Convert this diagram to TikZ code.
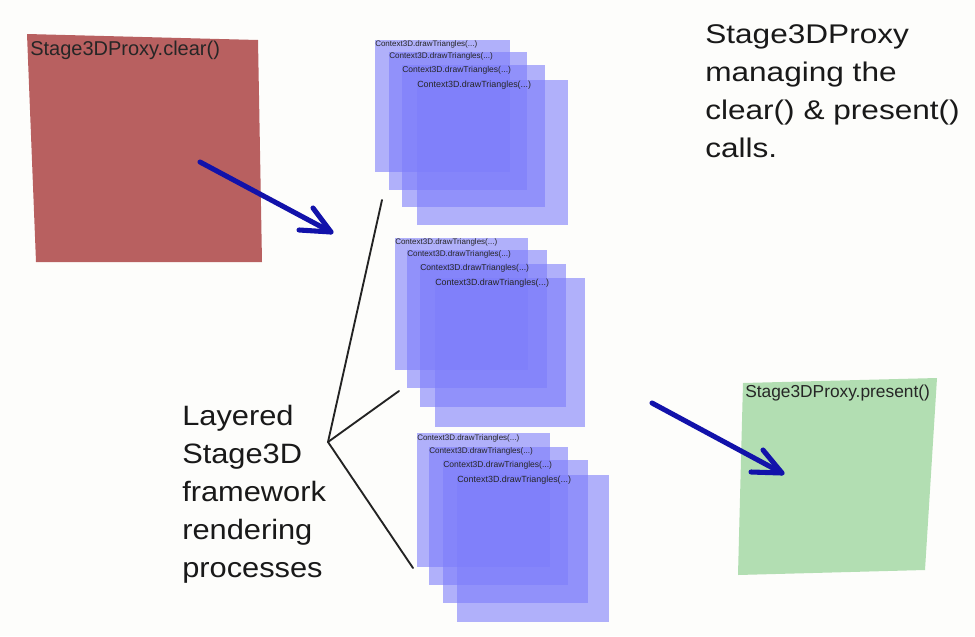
\documentclass[tikz,border=0pt]{standalone}
\usepackage{fontspec}
\setmainfont{Liberation Sans}
\definecolor{redbox}{RGB}{184,96,96}
\definecolor{greenbox}{RGB}{178,222,178}
\definecolor{layer}{RGB}{125,125,250}
\definecolor{arrowblue}{RGB}{18,18,170}
\definecolor{linegray}{RGB}{35,35,35}
\definecolor{bg}{RGB}{253,253,251}
\tikzset{
  layerbox/.style={fill=layer, fill opacity=0.6, draw=none},
  ctxlabel/.style={anchor=west, inner sep=0pt, text=black!85},
  bluearrow/.style={draw=arrowblue, line width=3.8pt, line cap=round, line join=round},
  guideline/.style={draw=linegray, line width=1.4pt, line cap=round},
  boxlabel/.style={anchor=base west, inner sep=0pt, text=black!85},
  bigtext/.style={anchor=base west, inner sep=0pt, text=black!90},
}
\begin{document}
\begin{tikzpicture}[x=0.75pt,y=-0.75pt]
\fill[bg] (0,0) rectangle (975,636);
\useasboundingbox (0,0) rectangle (975,636);

% red box
\fill[redbox] (27,34) -- (258,40) -- (262,262) -- (36,262) -- cycle;
\node[boxlabel, font=\fontsize{15}{18}\selectfont] (clr) at (30,55) {Stage3DProxy.clear()};

% green box
\fill[greenbox] (743,383) -- (937,378) -- (925,570) -- (738,575) -- cycle;
\node[boxlabel, font=\fontsize{13}{16}\selectfont] (prs) at (745,397) {Stage3DProxy.present()};

% stack 1
\path[layerbox] (375,40) rectangle (510,172);
\node[ctxlabel, font=\fontsize{6}{7}\selectfont] (t1a) at (375,44) {Context3D.drawTriangles(...)};
\path[layerbox] (389,52) rectangle (527,190);
\node[ctxlabel, font=\fontsize{6.1}{7}\selectfont] (t1b) at (389,56) {Context3D.drawTriangles(...)};
\path[layerbox] (402,65) rectangle (545,207);
\node[ctxlabel, font=\fontsize{6.4}{7}\selectfont] (t1c) at (402,70) {Context3D.drawTriangles(...)};
\path[layerbox] (417,80) rectangle (568,225);
\node[ctxlabel, font=\fontsize{6.7}{8}\selectfont] (t1d) at (417,85) {Context3D.drawTriangles(...)};

% stack 2
\path[layerbox] (395,238) rectangle (528,370);
\node[ctxlabel, font=\fontsize{6}{7}\selectfont] (t2a) at (395,242) {Context3D.drawTriangles(...)};
\path[layerbox] (407,250) rectangle (547,388);
\node[ctxlabel, font=\fontsize{6.1}{7}\selectfont] (t2b) at (407,254) {Context3D.drawTriangles(...)};
\path[layerbox] (420,264) rectangle (566,407);
\node[ctxlabel, font=\fontsize{6.4}{7}\selectfont] (t2c) at (420,268) {Context3D.drawTriangles(...)};
\path[layerbox] (435,278) rectangle (585,427);
\node[ctxlabel, font=\fontsize{6.7}{8}\selectfont] (t2d) at (435,283) {Context3D.drawTriangles(...)};

% stack 3
\path[layerbox] (417,433) rectangle (550,567);
\node[ctxlabel, font=\fontsize{6}{7}\selectfont] (t3a) at (417,438) {Context3D.drawTriangles(...)};
\path[layerbox] (429,447) rectangle (568,585);
\node[ctxlabel, font=\fontsize{6.1}{7}\selectfont] (t3b) at (429,451) {Context3D.drawTriangles(...)};
\path[layerbox] (443,460) rectangle (588,603);
\node[ctxlabel, font=\fontsize{6.4}{7}\selectfont] (t3c) at (443,465) {Context3D.drawTriangles(...)};
\path[layerbox] (457,475) rectangle (609,622);
\node[ctxlabel, font=\fontsize{6.7}{8}\selectfont] (t3d) at (457,480) {Context3D.drawTriangles(...)};

% arrows
\coordinate (a1s) at (200,162);
\coordinate (a1t) at (331,232);
\coordinate (a1u) at (313,208);
\coordinate (a1l) at (299,230);
\draw[bluearrow] (a1s) -- (a1t);
\draw[bluearrow] (a1u) -- (a1t) -- (a1l);

\coordinate (a2s) at (652,403);
\coordinate (a2t) at (782,473);
\coordinate (a2u) at (763,450);
\coordinate (a2l) at (751,472);
\draw[bluearrow] (a2s) -- (a2t);
\draw[bluearrow] (a2u) -- (a2t) -- (a2l);

% guide lines
\coordinate (apex) at (328,442);
\coordinate (g1) at (382,200);
\coordinate (g2) at (399,391);
\coordinate (g3) at (413,568);
\draw[guideline] (g1) -- (apex) -- (g3);
\draw[guideline] (apex) -- (g2);

% texts
\node[bigtext, font=\fontsize{20.25}{28.5}\selectfont] (note) at (705,43)
  {\scalebox{1.17}[1]{\begin{tabular}[t]{@{}l@{}}Stage3DProxy\\managing the\\clear() \& present()\\calls.\end{tabular}}};
\node[bigtext, font=\fontsize{21}{28.5}\selectfont] (layered) at (182,425)
  {\scalebox{1.1}[1]{\begin{tabular}[t]{@{}l@{}}Layered\\Stage3D\\framework\\rendering\\processes\end{tabular}}};
\end{tikzpicture}
\end{document}
